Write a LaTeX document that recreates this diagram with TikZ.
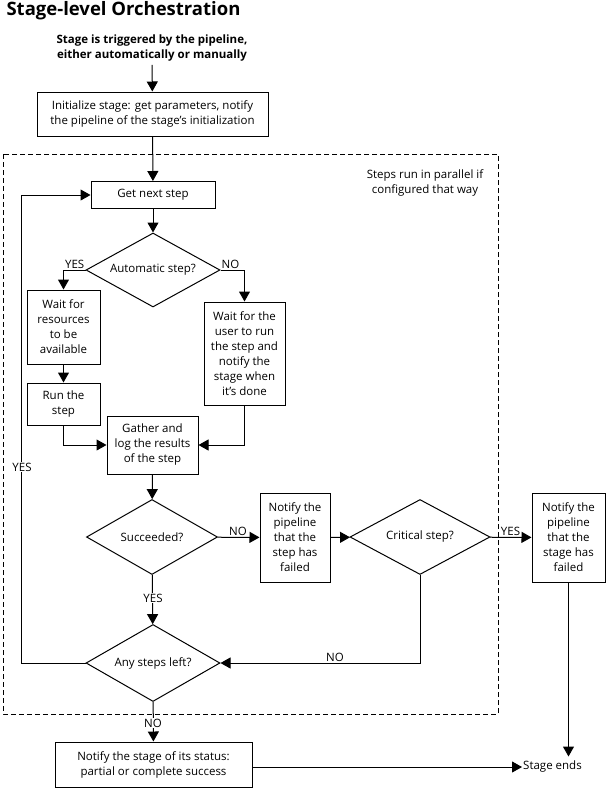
\documentclass[tikz,border=0pt]{standalone}
\usepackage{fontspec}
\setmainfont{Open Sans}
\usetikzlibrary{arrows.meta,shapes.geometric,positioning}

\begin{document}
\begin{tikzpicture}[x=1pt,y=-1pt]
\tikzstyle{box}=[rectangle, draw=black, line width=1pt, align=center, inner sep=2pt, font=\fontsize{11.5}{15}\selectfont]
\tikzstyle{decision}=[diamond, draw=black, line width=1pt, inner sep=0pt, aspect=1.8, font=\fontsize{11.5}{15}\selectfont]
\tikzstyle{connect}=[-{Triangle[length=10pt,width=11pt]}, line width=1pt]
\tikzstyle{answer}=[font=\fontsize{11.5}{13}\selectfont, inner sep=1pt]
\tikzstyle{frame}=[draw=black, line width=1pt, dash pattern=on 5pt off 3pt]

  \useasboundingbox (0,0) rectangle (616,796);

  \node[anchor=west, font=\fontsize{18.5}{22}\selectfont\bfseries] (title) at (3,11) {Stage-level Orchestration};
  \node[align=center, font=\fontsize{11.5}{15}\selectfont\bfseries] (trigger) at (152,48) {Stage is triggered by the pipeline,\\either automatically or manually};

  \node[box, minimum width=231pt, minimum height=44pt] (init) at (152.5,114) {Initialize stage: get parameters, notify\\the pipeline of the stage's initialization};

  \draw[frame] (3,154) rectangle (498,714);
  \node[align=center, font=\fontsize{11.5}{15}\selectfont] (parallel) at (425,183) {Steps run in parallel if\\configured that way};

  \node[box, minimum width=124pt, minimum height=27pt] (getnext)  at (153,195) {Get next step};
  \node[decision, minimum width=134pt, minimum height=74pt] (auto) [below of =getnext, node distance=75pt] {Automatic step?};

  \node[box, minimum width=73pt, minimum height=74pt] (waitres)  at (63.5,327)   {Wait for\\resources\\to be\\available};
  \node[box, minimum width=73pt, minimum height=42pt] (run)      at (63.5,404)   {Run the\\step};
  \node[box, minimum width=81pt, minimum height=103pt] (waituser) at (244.5,353.5) {Wait for the\\user to run\\the step and\\notify the\\stage when\\it's done};
  \node[box, minimum width=91pt, minimum height=58pt] (gather)   at (152.5,445)  {Gather and\\log the results\\of the step};

  \node[decision, minimum width=131pt, minimum height=75pt] (succ) at (152,537) {Succeeded?};
  \node[box, minimum width=70pt, minimum height=89pt] (stepfail)  at (295,537.5) {Notify the\\pipeline\\that the\\step has\\failed};
  \node[decision, minimum width=140pt, minimum height=75pt] (crit) at (420,537) {Critical step?};
  \node[box, minimum width=73pt, minimum height=89pt] (stagefail) at (568.5,537.5) {Notify the\\pipeline\\that the\\stage has\\failed};

  \node[decision, minimum width=134pt, minimum height=77pt] (anyleft) at (153,663) {Any steps left?};
  \node[box, minimum width=197pt, minimum height=45pt] (status) at (153.5,764.5) {Notify the stage of its status:\\partial or complete success};
  \node[anchor=west, inner sep=1pt, font=\fontsize{11.5}{15}\selectfont] (stageends) at (522,767) {Stage ends};

  % main flow
  \path (trigger) edge [connect] (init);
  \path (init) edge [connect] (getnext);
  \path (getnext) edge [connect] (auto);
  \draw[connect] (auto.west) -| (waitres.north);
  \draw[connect] (auto.east) -| (waituser.north);
  \path (waitres) edge [connect] (run);
  \draw[connect] (run.south) |- (gather.west);
  \draw[connect] (waituser.south) |- (gather.east);
  \path (gather) edge [connect] (succ);
  \path (succ) edge [connect] (stepfail);
  \path (stepfail) edge [connect] (crit);
  \path (crit) edge [connect] (stagefail);
  \path (succ) edge [connect] (anyleft);
  \draw[connect] (crit.south) |- (anyleft.east);
  \draw[connect] (anyleft.west) -- ++(-64,0) |- (getnext.west);
  \path (anyleft) edge [connect] (status);
  \draw[connect] (status.east |- stageends.west) -- (stageends.west);
  \draw[connect] (stagefail.south) -- ++(0,174);

  % answers
  \node[answer, above left] at (auto.west) {YES};
  \node[answer, above right] at (auto.east) {NO};
  \node[answer, above] at ([xshift=20pt]succ.east) {NO};
  \node[answer, above] at ([xshift=20pt]crit.east) {YES};
  \node[answer, fill=white] at (153,598) {YES};
  \node[answer, above] at (335,663) {NO};
  \node[answer, fill=white] at (22,467) {YES};
  \node[answer, fill=white] at (153,723) {NO};

\end{tikzpicture}
\end{document}
